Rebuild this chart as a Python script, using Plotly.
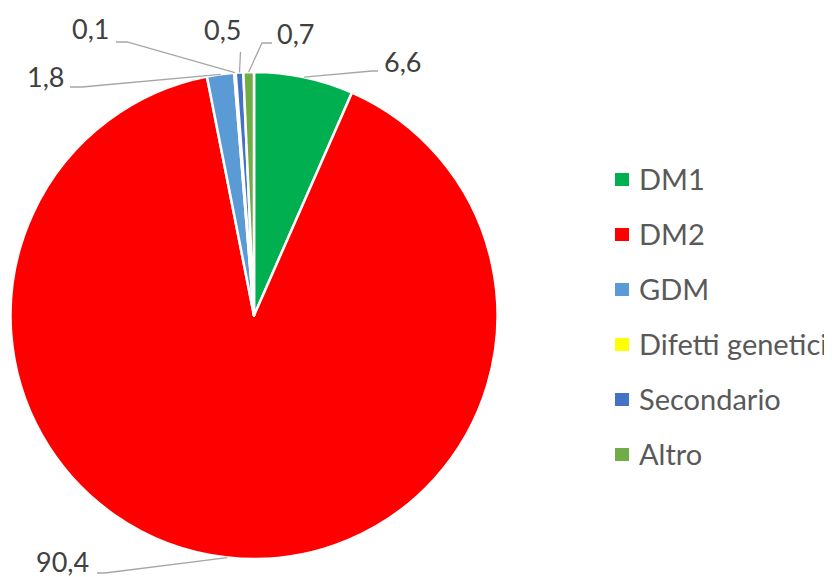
import math
import plotly.graph_objects as go

# ---- data ----
categories = ["DM1", "DM2", "GDM", "Difetti genetici", "Secondario", "Altro"]
values = [6.6, 90.4, 1.8, 0.1, 0.5, 0.7]
colors = ["#00B050", "#FF0000", "#5B9BD5", "#FFFF00", "#4472C4", "#70AD47"]

# page has an 8px body margin; work in window pixels and convert
OFF = 8
W, H = 832 - OFF, 577 - OFF
PX0, PX1 = 10.5, 497.5
PY0, PY1 = 72.0, 559.0
CX, CY = (PX0 + PX1) / 2, (PY0 + PY1) / 2
R = (PX1 - PX0) / 2


def xp(px):
    return (px - OFF) / W


def yp(py):
    return 1 - (py - OFF) / H


fig = go.Figure(go.Pie(
    labels=categories, values=values, sort=False, direction="clockwise",
    rotation=0, marker=dict(colors=colors, line=dict(color="white", width=2.5)),
    textinfo="none", hoverinfo="label+value", showlegend=False,
    domain=dict(x=[xp(PX0), xp(PX1)], y=[yp(PY1), yp(PY0)]),
))

# label placement (text centre, leader-line bend points) in window pixels
label_layout = [
    dict(t=(402, 62), pts=[(372, 71), (378, 71)]),
    dict(t=(62, 561), pts=[(105, 573), (97, 573)]),
    dict(t=(45, 76), pts=[(82, 87), (70, 87)]),
    dict(t=(90, 29), pts=[(127, 42), (116, 42)]),
    dict(t=(222, 30), pts=[(240.5, 52)]),
    dict(t=(295, 33), pts=[(262, 43), (272, 43)]),
]

total = sum(values)
cum = 0.0
shapes = []
annotations = []
FONT = "Lato, 'Open Sans', sans-serif"
for v, lay in zip(values, label_layout):
    mid = (cum + v / 2) / total
    cum += v
    th = 2 * math.pi * mid
    ax, ay = CX + R * math.sin(th), CY - R * math.cos(th)
    pts = [(ax, ay)] + lay["pts"]
    path = "M " + " L ".join(f"{xp(x):.5f},{yp(y):.5f}" for x, y in pts)
    shapes.append(dict(type="path", xref="paper", yref="paper", path=path,
                       line=dict(color="#A6A6A6", width=1.3)))
    tx, ty = lay["t"]
    annotations.append(dict(
        x=xp(tx), y=yp(ty), xref="paper", yref="paper", showarrow=False,
        text=f"{v:.1f}".replace(".", ","), xanchor="center", yanchor="middle",
        font=dict(family=FONT, size=27, color="#404040")))

# custom legend
LEG_Y0, LEG_DY = 179.5, 55
for i, (c, col) in enumerate(zip(categories, colors)):
    yy = LEG_Y0 + i * LEG_DY
    shapes.append(dict(type="rect", xref="paper", yref="paper",
                       x0=xp(615), x1=xp(629), y0=yp(yy + 6.5), y1=yp(yy - 6.5),
                       fillcolor=col, line=dict(width=0)))
    annotations.append(dict(
        x=xp(637), y=yp(yy - 1), xref="paper", yref="paper", showarrow=False,
        text=c, xanchor="left", yanchor="middle",
        font=dict(family=FONT, size=29, color="#595959")))

fig.update_layout(
    width=W, height=H, margin=dict(l=0, r=0, t=0, b=0),
    paper_bgcolor="white", plot_bgcolor="white",
    shapes=shapes, annotations=annotations, showlegend=False,
)
fig.write_html("out.html")
